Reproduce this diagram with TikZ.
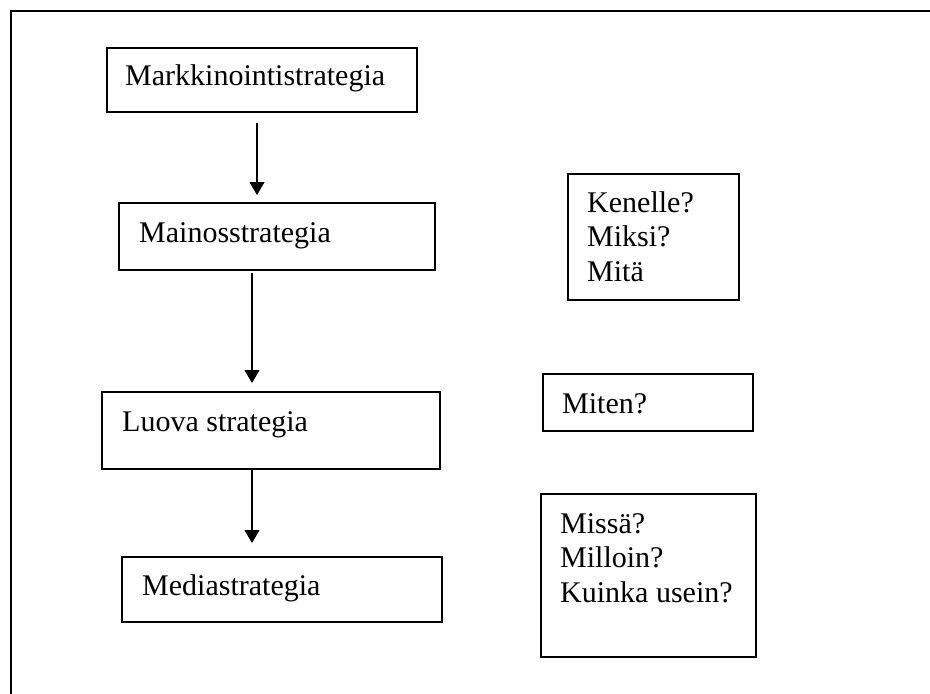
\documentclass[tikz,border=0pt]{standalone}
\usepackage{fontspec}
\setmainfont{Liberation Serif}
\usetikzlibrary{arrows.meta}
\begin{document}
\begin{tikzpicture}[x=1pt,y=1pt,
  box/.style={draw, line width=1.3pt, anchor=north west, inner sep=0pt, outer sep=0pt},
  lbl/.style={anchor=base west, inner sep=0pt, font=\fontsize{30}{34.5}\selectfont, align=left},
  arr/.style={line width=1.1pt, -{Triangle[width=15pt,length=13pt]}}]
\useasboundingbox (0,0) rectangle (930,-694);
\fill[white] (0,0) rectangle (930,-694);
% outer frame (top and left only)
\coordinate (fbl) at (11,-694);
\coordinate (ftl) at (11,-11);
\coordinate (ftr) at (930,-11);
\draw[line width=1.5pt] (fbl) -- (ftl) -- (ftr);
% left column boxes
\node[box, minimum width=310, minimum height=64] (b1) at (107,-48) {};
\node[lbl] (t1) at (125,-85) {Markkinointistrategia};
\node[box, minimum width=316, minimum height=67] (b2) at (119,-203) {};
\node[lbl] (t2) at (139,-242) {Mainosstrategia};
\node[box, minimum width=338, minimum height=77] (b3) at (102,-392) {};
\node[lbl] (t3) at (122,-431) {Luova strategia};
\node[box, minimum width=320, minimum height=65] (b4) at (122,-557) {};
\node[lbl] (t4) at (142,-595) {Mediastrategia};
% right column boxes
\node[box, minimum width=171, minimum height=126] (q1) at (568,-174) {};
\node[lbl] (u1) at (587,-281) {Kenelle?\\Miksi?\\Mitä};
\node[box, minimum width=210, minimum height=57] (q2) at (543,-374) {};
\node[lbl] (u2) at (562,-413) {Miten?};
\node[box, minimum width=215, minimum height=163] (q3) at (541,-494) {};
\node[lbl] (u3) at (560,-602) {Missä?\\Milloin?\\Kuinka usein?};
% arrows
\coordinate (x1) at (257,0);
\coordinate (x2) at (252,0);
\draw[arr, shorten <=11pt, shorten >=8pt] (b1.south -| x1) -- (b2.north -| x1);
\draw[arr, shorten <=3pt, shorten >=9pt] (b2.south -| x2) -- (b3.north -| x2);
\draw[arr, shorten >=14pt] (b3.south -| x2) -- (b4.north -| x2);
\end{tikzpicture}
\end{document}
